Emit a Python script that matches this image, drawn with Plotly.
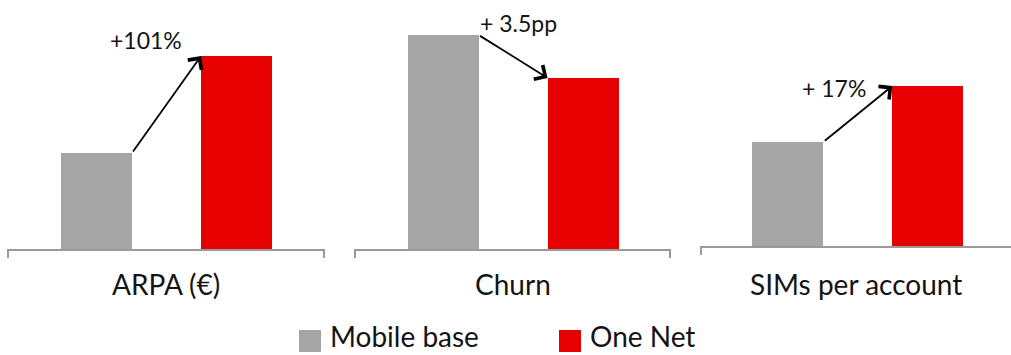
import plotly.graph_objects as go

# Metrics compared between the two customer groups
metrics = ["ARPA (€)", "Churn", "SIMs per account"]
series_names = ["Mobile base", "One Net"]
mobile_base = [100, 17.4, 3.00]
one_net = [201, 13.9, 3.51]
change_labels = ["+101%", "+ 3.5pp", "+ 17%"]

GREY = "#A5A5A5"
RED = "#E60000"
AXIS_COLOR = "#9A9A9A"
TEXT_COLOR = "#141414"
FONT = "Lato"

W, H = 1011, 355
x_domains = [[8 / W, 324 / W], [355 / W, 670 / W], [701 / W, 1.0]]
y_domains = [[1 - 249 / H, 1.0], [1 - 249 / H, 1.0], [1 - 246 / H, 1.0]]
x_ranges = [[-0.632, 1.625], [-0.629, 1.621], [-0.62, 1.594]]
y_ranges = [[0, 259.4], [0, 20.24], [2.053, 4.293]]
bar_width = 0.507
change_label_pos = [(0.354, 217.7), (0.536, 18.37), (0.33, 3.492)]
tick_len = 9 / H

fig = go.Figure()
annotations = []
shapes = []

for i, metric in enumerate(metrics):
    suffix = "" if i == 0 else str(i + 1)
    xa, ya = "x" + suffix, "y" + suffix
    values = [mobile_base[i], one_net[i]]
    floor = y_ranges[i][0]

    # bars rise from the bottom of the panel's value range
    fig.add_trace(go.Bar(
        x=[0, 1], y=[v - floor for v in values], base=floor,
        width=bar_width,
        marker=dict(color=[GREY, RED], line=dict(width=0)),
        xaxis=xa, yaxis=ya, showlegend=False, hoverinfo="skip",
    ))

    fig.layout["xaxis" + suffix] = dict(
        domain=x_domains[i], range=x_ranges[i], anchor=ya,
        showline=True, linecolor=AXIS_COLOR, linewidth=2,
        showgrid=False, zeroline=False, showticklabels=False, ticks="",
        fixedrange=True,
    )
    fig.layout["yaxis" + suffix] = dict(
        domain=y_domains[i], range=y_ranges[i], anchor=xa,
        showline=False, showgrid=False, zeroline=False,
        showticklabels=False, ticks="", fixedrange=True,
    )

    # bracket ends of the baseline
    base_y = y_domains[i][0]
    ends = [0, 1] if i < 2 else [0]
    for e in ends:
        shapes.append(dict(
            type="line", xref=xa + " domain", yref="paper",
            x0=e, x1=e, y0=base_y, y1=base_y - tick_len,
            line=dict(color=AXIS_COLOR, width=2),
        ))

    # arrow from the mobile-base bar to the One Net bar
    annotations.append(dict(
        xref=xa, yref=ya, axref=xa, ayref=ya,
        x=1 - bar_width / 2, y=one_net[i],
        ax=bar_width / 2, ay=mobile_base[i],
        text="", showarrow=True, arrowhead=4, arrowsize=1.8,
        arrowwidth=1.8, arrowcolor="#000000", standoff=0, startstandoff=0,
    ))
    lx, ly = change_label_pos[i]
    annotations.append(dict(
        xref=xa, yref=ya, x=lx, y=ly, text=change_labels[i],
        showarrow=False, xanchor="center", yanchor="middle",
        font=dict(family=FONT, size=23, color=TEXT_COLOR),
    ))

    # metric name under the panel
    annotations.append(dict(
        xref=xa + " domain", yref="paper", x=0.5, y=1 - 284 / H,
        text=metric, showarrow=False, xanchor="center", yanchor="middle",
        font=dict(family=FONT, size=28, color=TEXT_COLOR),
    ))

# legend: square swatches with labels
legend_items = [(series_names[0], GREY, 299), (series_names[1], RED, 559)]
for name, color, px in legend_items:
    shapes.append(dict(
        type="rect", xref="paper", yref="paper",
        x0=px / W, x1=(px + 22) / W, y0=1 - 352 / H, y1=1 - 330 / H,
        fillcolor=color, line=dict(width=0),
    ))
    annotations.append(dict(
        xref="paper", yref="paper", x=(px + 29) / W, y=0.0,
        text=name, showarrow=False, xanchor="left", yanchor="bottom",
        font=dict(family=FONT, size=28, color=TEXT_COLOR),
    ))

fig.update_layout(
    width=W, height=H,
    margin=dict(l=0, r=0, t=0, b=0),
    paper_bgcolor="white", plot_bgcolor="white",
    annotations=annotations, shapes=shapes,
    bargap=0, showlegend=False,
    font=dict(family=FONT, color=TEXT_COLOR),
)

fig.write_html("out.html", config={"displayModeBar": False})
